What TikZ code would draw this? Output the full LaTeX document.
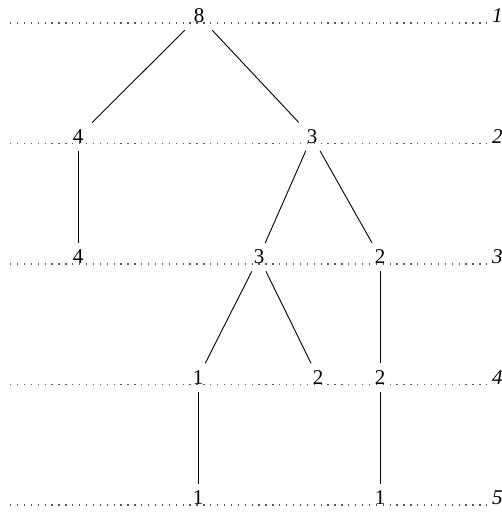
\documentclass[tikz,border=0pt]{standalone}
\usepackage{fontspec}
\setmainfont{Liberation Serif}
\usetikzlibrary{positioning}

\begin{document}
\begin{tikzpicture}[
		x=1pt, y=1pt,
		num/.style={rectangle, minimum size=28pt, inner sep=0pt, anchor=base,
			font=\rmfamily\fontsize{21}{25}\selectfont},
		lvl/.style={inner sep=0pt, anchor=base west, font=\rmfamily\fontsize{21}{25}\selectfont\itshape},
		guide/.style={black!65, line width=1.3pt, dash pattern=on 1.3pt off 5.6pt},
		link/.style={line width=0.9pt},
	]
		\useasboundingbox (0,0) rectangle (502,516);

		% Level guide lines
		\foreach \i/\y in {1/493,2/372.5,3/252,4/131.5,5/11} {
			\coordinate (g\i) at (10,\y);
			\node[lvl] (l\i) at (492,\y) {\i};
			\draw[guide] (g\i) -- ([xshift=-3pt]l\i.base west);
		}

		% Tree nodes
		\node[num] (n1a) at (199,493) {8};

		\node[num] (n2a) at (78,372.5) {4};
		\node[num] (n2b) at (312,372.5) {3};

		\node[num] (n3a) at (78,252) {4};
		\node[num] (n3b) at (259,252) {3};
		\node[num] (n3c) at (380,252) {2};

		\node[num] (n4a) at (198,131.5) {1};
		\node[num] (n4b) at (318,131.5) {2};
		\node[num] (n4c) at (380,131.5) {2};

		\node[num] (n5a) at (198,11) {1};
		\node[num] (n5b) at (380,11) {1};

		% Edges
		\draw[link] (n1a) -- (n2a);
		\draw[link] (n1a) -- (n2b);
		\draw[link] (n2a) -- (n3a);
		\draw[link] (n2b) -- (n3b);
		\draw[link] (n2b) -- (n3c);
		\draw[link] (n3b) -- (n4a);
		\draw[link] (n3b) -- (n4b);
		\draw[link] (n3c) -- (n4c);
		\draw[link] (n4a) -- (n5a);
		\draw[link] (n4c) -- (n5b);
	\end{tikzpicture}
\end{document}
